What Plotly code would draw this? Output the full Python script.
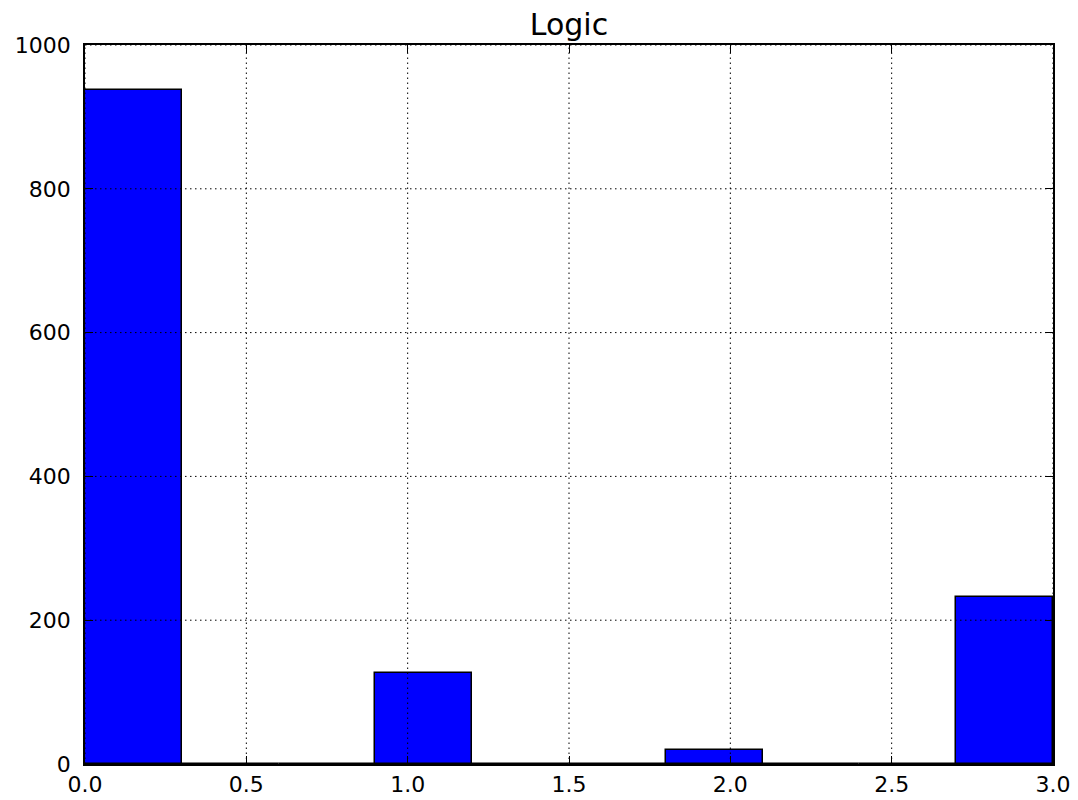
import plotly.graph_objects as go

# Histogram of "Logic" values: 10 equal bins over [0, 3]
bin_edges = [0.0, 0.3, 0.6, 0.9, 1.2, 1.5, 1.8, 2.1, 2.4, 2.7, 3.0]
counts = [937, 0, 0, 126, 0, 0, 20, 0, 0, 232]
x_ticks = [0.0, 0.5, 1.0, 1.5, 2.0, 2.5, 3.0]
x_tick_labels = ["0.0", "0.5", "1.0", "1.5", "2.0", "2.5", "3.0"]
y_ticks = [0, 200, 400, 600, 800, 1000]
y_tick_labels = ["0", "200", "400", "600", "800", "1000"]

centers = [(a + b) / 2 for a, b in zip(bin_edges[:-1], bin_edges[1:])]
widths = [b - a for a, b in zip(bin_edges[:-1], bin_edges[1:])]

fig = go.Figure(
    go.Bar(
        x=centers,
        y=counts,
        width=widths,
        marker=dict(color="#0000FF", line=dict(color="black", width=1.5)),
        showlegend=False,
    )
)

# Dotted grid drawn on top of the bars
grid_line = dict(color="black", width=1, dash="1.5px,3.5px")
shapes = []
for xv in x_ticks:
    shapes.append(dict(type="line", xref="x", yref="paper", x0=xv, x1=xv, y0=0, y1=1,
                       line=grid_line, layer="above"))
for yv in y_ticks:
    shapes.append(dict(type="line", xref="paper", yref="y", x0=0, x1=1, y0=yv, y1=yv,
                       line=grid_line, layer="above"))

font = "DejaVu Sans, Bitstream Vera Sans, sans-serif"
axis_common = dict(
    ticks="inside",
    ticklen=8,
    tickwidth=1,
    tickcolor="black",
    showline=True,
    linecolor="black",
    linewidth=1.8,
    mirror="ticks",
    showgrid=False,
    zeroline=False,
    layer="above traces",
    automargin=False,
    tickfont=dict(family=font, size=22, color="black"),
)

fig.update_layout(
    width=1078,
    height=800,
    margin=dict(l=85, r=25, t=45, b=36),
    paper_bgcolor="white",
    plot_bgcolor="white",
    bargap=0,
    shapes=shapes,
    title=dict(text="Logic", xref="paper", x=0.5, xanchor="center",
               yref="container", y=1 - 24 / 800, yanchor="middle",
               font=dict(family=font, size=30, color="black")),
    font=dict(family=font, size=22, color="black"),
    xaxis=dict(range=[0, 3], tickvals=x_ticks, ticktext=x_tick_labels,
               ticklabelstandoff=0, **axis_common),
    yaxis=dict(range=[0, 1000], tickvals=y_ticks, ticktext=y_tick_labels,
               ticklabelstandoff=8, **axis_common),
)

fig.write_html("out.html")
